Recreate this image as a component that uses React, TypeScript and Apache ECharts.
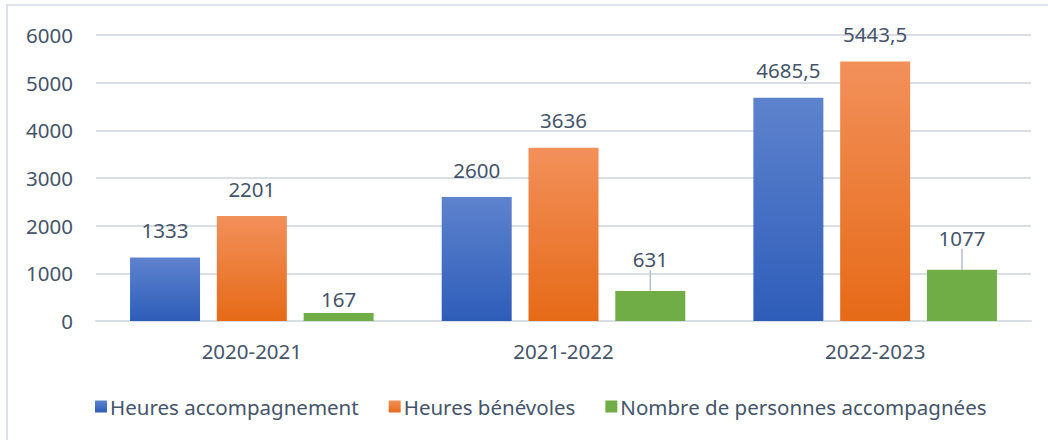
import React, { useEffect, useRef } from "react";
import * as echarts from "echarts";

const categories = ["2020-2021", "2021-2022", "2022-2023"];
const heuresAccompagnement = [1333, 2600, 4685.5];
const heuresBenevoles = [2201, 3636, 5443.5];
const nombrePersonnes = [167, 631, 1077];
const seriesNames = ["Heures accompagnement", "Heures bénévoles", "Nombre de personnes accompagnées"];

const FONT = "Noto Sans";
const TXT = "#44546A";
const FS = 20.5;

const fmt = (p: any) => String(p.value).replace(".", ",");

export default function App() {
  const ref = useRef<HTMLDivElement>(null);
  useEffect(() => {
    document.body.style.margin = "0";
    const chart = echarts.init(ref.current!, undefined, { renderer: "svg" });
    const grad = (top: string, bottom: string) =>
      new echarts.graphic.LinearGradient(0, 0, 0, 1, [
        { offset: 0, color: top },
        { offset: 1, color: bottom },
      ]);
    const labelBase = {
      show: true,
      position: "top" as const,
      distance: 17,
      color: TXT,
      fontSize: FS,
      fontFamily: FONT,
      formatter: fmt,
    };
    chart.setOption({
      animation: false,
      backgroundColor: "#ffffff",
      textStyle: { fontFamily: FONT },
      graphic: [
        {
          type: "rect",
          shape: { x: 7, y: 5, width: 1100, height: 500 },
          style: { fill: "none", stroke: "#DDE2E8", lineWidth: 2 },
          silent: true,
          z: -10,
        },
      ],
      grid: { left: 96, right: 17, top: 35, bottom: 119 },
      legend: {
        left: 90,
        top: 391,
        icon: "rect",
        itemWidth: 12,
        itemHeight: 12,
        itemGap: 30,
        textStyle: { color: TXT, fontSize: FS, fontFamily: FONT, padding: [0, 0, 0, -2] },
        data: seriesNames,
      },
      xAxis: {
        type: "category",
        data: categories,
        axisLine: { lineStyle: { color: "#D9DEE5", width: 2 } },
        axisTick: { show: false },
        axisLabel: { color: TXT, fontSize: FS, fontFamily: FONT, margin: 19 },
      },
      yAxis: {
        type: "value",
        min: 0,
        max: 6000,
        interval: 1000,
        axisLine: { show: false },
        axisTick: { show: false },
        axisLabel: {
          color: TXT,
          fontSize: FS,
          fontFamily: FONT,
          margin: 23,
          formatter: (v: number) => String(v),
        },
        splitLine: { lineStyle: { color: "#D9DEE5", width: 2 } },
      },
      series: [
        {
          name: seriesNames[0],
          type: "bar",
          data: heuresAccompagnement,
          barWidth: 70,
          barGap: "24%",
          itemStyle: { color: grad("#5E83CE", "#2E5DB9") },
          label: labelBase,
        },
        {
          name: seriesNames[1],
          type: "bar",
          data: heuresBenevoles,
          barWidth: 70,
          barGap: "24%",
          itemStyle: { color: grad("#F2905A", "#E66A17") },
          label: labelBase,
        },
        {
          name: seriesNames[2],
          type: "bar",
          data: nombrePersonnes.map((v, i) =>
            i === 0 ? { value: v, labelLine: { show: false } } : { value: v }
          ),
          barWidth: 70,
          barGap: "24%",
          itemStyle: { color: "#70AD47" },
          label: { ...labelBase, distance: 4 },
          labelLayout: (params: any) => (params.dataIndex > 0 ? { dy: -17 } : {}),
          labelLine: { show: true, lineStyle: { color: "#B4C0CE", width: 1.5 } },
        },
      ],
    });
    return () => chart.dispose();
  }, []);
  return <div ref={ref} style={{ width: 1048, height: 440 }} />;
}
